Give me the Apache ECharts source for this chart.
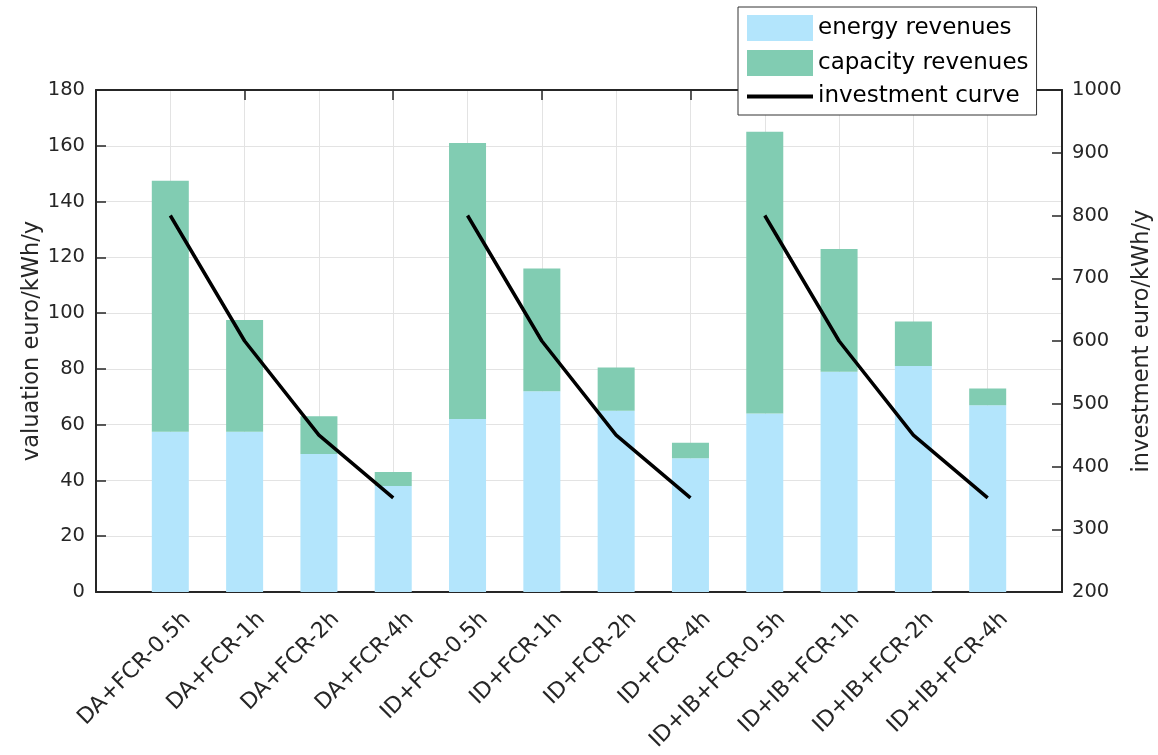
<!DOCTYPE html>
<html>
<head>
<meta charset="utf-8">
<script src="https://cdn.jsdelivr.net/npm/echarts@6/dist/echarts.min.js"></script>
<style>
html,body{margin:0;padding:0;background:#fff;overflow:hidden;width:1158px;height:755px;}
#chart{width:1158px;height:755px;}
</style>
</head>
<body>
<div id="chart"></div>
<script>
const categories = ['DA+FCR-0.5h','DA+FCR-1h','DA+FCR-2h','DA+FCR-4h','ID+FCR-0.5h','ID+FCR-1h','ID+FCR-2h','ID+FCR-4h','ID+IB+FCR-0.5h','ID+IB+FCR-1h','ID+IB+FCR-2h','ID+IB+FCR-4h'];
const energyRevenues = [57.5, 57.5, 49.5, 38, 62, 72, 65, 48, 64, 79, 81, 67];
const capacityRevenues = [90, 40, 13.5, 5, 99, 44, 15.5, 5.5, 101, 44, 16, 6];
const investmentCurve = [800, 600, 450, 350, 800, 600, 450, 350, 800, 600, 450, 350];
const groupSize = 4;

const FONT = 'DejaVu Sans';
const TXT = '#262626';

// padded category axis (empty slot at both ends)
const axisData = [''].concat(categories, ['']);
const pad = arr => [null].concat(arr, [null]);

const lineSeries = [];
for (let g = 0; g < categories.length / groupSize; g++) {
  const d = axisData.map(() => null);
  for (let i = 0; i < groupSize; i++) {
    const idx = g * groupSize + i;
    d[idx + 1] = investmentCurve[idx];
  }
  lineSeries.push({
    name: 'investment curve', type: 'line', yAxisIndex: 1, xAxisIndex: 0,
    data: d, symbol: 'none', showSymbol: false, connectNulls: false, z: 5,
    lineStyle: {color: '#000', width: 3.5}, itemStyle: {color: '#000'}
  });
}

const chart = echarts.init(document.getElementById('chart'), null, {renderer: 'canvas', width: 1158, height: 755});
chart.setOption({
  animation: false,
  backgroundColor: '#fff',
  textStyle: {fontFamily: FONT},
  grid: {left: 96, right: 96, top: 90, bottom: 163, containLabel: false, outerBoundsMode: 'none'},
  legend: {
    orient: 'vertical', left: 738, top: 7,
    padding: [8, 8, 7, 7],
    backgroundColor: '#fff', borderColor: '#333', borderWidth: 1,
    itemWidth: 66, itemHeight: 26, itemGap: 9,
    textStyle: {fontFamily: FONT, fontSize: 23, color: '#000'},
    data: [
      {name: 'energy revenues', icon: 'rect'},
      {name: 'capacity revenues', icon: 'rect'},
      {name: 'investment curve', itemStyle: {opacity: 0}, lineStyle: {color: '#000', width: 4}}
    ]
  },
  xAxis: [{
    type: 'category', data: axisData, boundaryGap: false, position: 'bottom',
    axisLine: {lineStyle: {color: TXT, width: 2}},
    axisTick: {inside: true, length: 10, lineStyle: {color: TXT, width: 1.5}},
    axisLabel: {interval: 0, rotate: 45, fontSize: 22, color: TXT, fontFamily: FONT,
      margin: 7, verticalAlign: 'top', lineHeight: 48, hideOverlap: false},
    splitLine: {show: true, lineStyle: {color: '#e3e3e3', width: 1}}
  }, {
    type: 'category', data: axisData, boundaryGap: false, position: 'top',
    axisLine: {lineStyle: {color: TXT, width: 2}},
    axisTick: {inside: true, length: 10, lineStyle: {color: TXT, width: 1.5}},
    axisLabel: {show: false}, splitLine: {show: false}
  }],
  yAxis: [{
    type: 'value', min: 0, max: 180, interval: 20, position: 'left',
    name: 'valuation euro/kWh/y', nameLocation: 'middle', nameRotate: 90, nameGap: 52,
    nameMoveOverlap: false,
    nameTextStyle: {fontSize: 22.5, color: TXT, fontFamily: FONT},
    axisLine: {show: true, lineStyle: {color: TXT, width: 2}},
    axisTick: {show: true, inside: true, length: 10, lineStyle: {color: TXT, width: 1.5}},
    axisLabel: {fontSize: 19.5, color: TXT, fontFamily: FONT, margin: 11},
    splitLine: {show: true, lineStyle: {color: '#e3e3e3', width: 1}}
  }, {
    type: 'value', min: 200, max: 1000, interval: 100, position: 'right',
    name: 'investment euro/kWh/y', nameLocation: 'middle', nameRotate: 90, nameGap: 69,
    nameMoveOverlap: false,
    nameTextStyle: {fontSize: 22.5, color: TXT, fontFamily: FONT},
    axisLine: {show: true, lineStyle: {color: TXT, width: 2}},
    axisTick: {show: true, inside: true, length: 10, lineStyle: {color: TXT, width: 1.5}},
    axisLabel: {fontSize: 19.5, color: TXT, fontFamily: FONT, margin: 10, formatter: v => String(v)},
    splitLine: {show: false}
  }],
  series: [{
    name: 'energy revenues', type: 'bar', stack: 'rev', data: pad(energyRevenues),
    barWidth: 37, itemStyle: {color: '#b3e5fc'}
  }, {
    name: 'capacity revenues', type: 'bar', stack: 'rev', data: pad(capacityRevenues),
    barWidth: 37, itemStyle: {color: '#81ccb2'}
  }].concat(lineSeries)
});
</script>
</body>
</html>
